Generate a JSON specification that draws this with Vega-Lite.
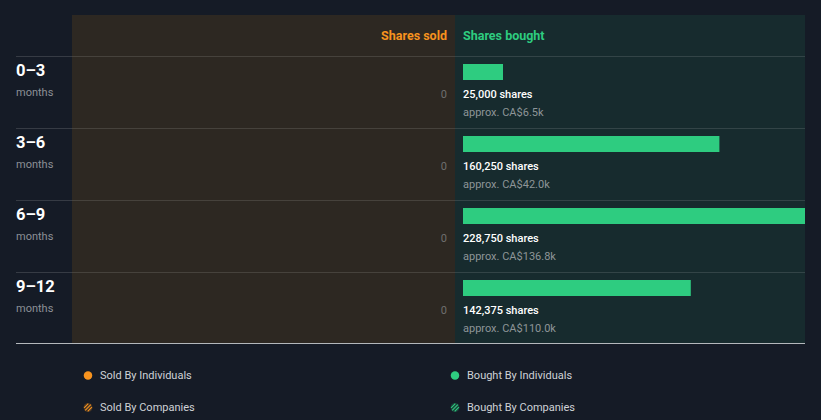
{
  "$schema": "https://vega.github.io/schema/vega-lite/v6.json",
  "background": "#151b26",
  "padding": {"left": 16, "top": 15, "right": 16, "bottom": 0},
  "spacing": 0,
  "config": {
    "view": {"stroke": null},
    "font": "Roboto",
    "text": {"font": "Roboto"}
  },
  "datasets": {
    "rows": [
      {"period": "0–3", "sold": 0, "bought": 25000, "boughtLabel": "25,000 shares", "approx": "approx. CA$6.5k"},
      {"period": "3–6", "sold": 0, "bought": 160250, "boughtLabel": "160,250 shares", "approx": "approx. CA$42.0k"},
      {"period": "6–9", "sold": 0, "bought": 228750, "boughtLabel": "228,750 shares", "approx": "approx. CA$136.8k"},
      {"period": "9–12", "sold": 0, "bought": 142375, "boughtLabel": "142,375 shares", "approx": "approx. CA$110.0k"}
    ],
    "headers": [
      {"side": "Sold", "title": "Shares sold", "zero": 0},
      {"side": "Bought", "title": "Shares bought", "zero": 0}
    ],
    "legend": [
      {"side": "Sold", "kind": "Individuals", "label": "Sold By Individuals"},
      {"side": "Bought", "kind": "Individuals", "label": "Bought By Individuals"},
      {"side": "Sold", "kind": "Companies", "label": "Sold By Companies"},
      {"side": "Bought", "kind": "Companies", "label": "Bought By Companies"}
    ]
  },
  "vconcat": [
    {
      "hconcat": [
        {
          "width": 56, "height": 41,
          "data": {"name": "headers"},
          "transform": [{"filter": "datum.side == 'none'"}],
          "mark": {"type": "text"},
          "encoding": {"text": {"field": "title"}}
        },
        {
          "width": 383, "height": 41,
          "view": {"fill": "#2d2822", "stroke": null},
          "data": {"name": "headers"},
          "transform": [{"filter": "datum.side == 'Sold'"}],
          "mark": {"type": "text", "align": "right", "baseline": "middle", "fontSize": 12.5, "fontWeight": "bold", "color": "#f7931e"},
          "encoding": {
            "x": {"field": "zero", "type": "quantitative", "scale": {"domain": [-5000, 234375], "reverse": true, "nice": false, "zero": false}, "axis": null},
            "text": {"field": "title"}
          }
        },
        {
          "width": 350, "height": 41,
          "view": {"fill": "#172b2e", "stroke": null},
          "data": {"name": "headers"},
          "transform": [{"filter": "datum.side == 'Bought'"}],
          "mark": {"type": "text", "align": "left", "baseline": "middle", "fontSize": 12.5, "fontWeight": "bold", "color": "#2ecc80"},
          "encoding": {
            "x": {"field": "zero", "type": "quantitative", "scale": {"domain": [-5000, 213750], "nice": false, "zero": false}, "axis": null},
            "text": {"field": "title"}
          }
        }
      ],
      "spacing": 0,
      "bounds": "flush"
    },
    {
      "hconcat": [
        {
          "width": 56, "height": 288,
          "data": {"name": "rows"},
          "encoding": {
            "y": {"field": "period", "type": "nominal", "sort": null, "scale": {"paddingInner": 0, "paddingOuter": 0}, "axis": null}
          },
          "layer": [
            {"mark": {"type": "rule", "color": "#ffffff", "opacity": 0.14, "strokeWidth": 1, "clip": true, "yOffset": 0.5},
             "encoding": {"y": {"field": "period", "type": "nominal", "sort": null, "bandPosition": 0}}},
            {"mark": {"type": "rule", "color": "#b4b8bc", "strokeWidth": 1, "clip": true, "yOffset": -0.5},
             "transform": [{"filter": "datum.period == '9–12'"}],
             "encoding": {"y": {"field": "period", "type": "nominal", "sort": null, "bandPosition": 1}}},
            {"mark": {"type": "text", "align": "left", "baseline": "middle", "fontSize": 16.5, "fontWeight": "bold", "color": "#ffffff", "dy": -21},
             "encoding": {"x": {"value": 0}, "text": {"field": "period"}}},
            {"mark": {"type": "text", "align": "left", "baseline": "middle", "fontSize": 11, "color": "#8c9096", "dy": 1},
             "encoding": {"x": {"value": 0}, "text": {"value": "months"}}}
          ]
        },
        {
          "width": 383, "height": 288,
          "view": {"fill": "#2d2822", "stroke": null},
          "data": {"name": "rows"},
          "encoding": {
            "y": {"field": "period", "type": "nominal", "sort": null, "scale": {"paddingInner": 0, "paddingOuter": 0}, "axis": null}
          },
          "layer": [
            {"mark": {"type": "rule", "color": "#ffffff", "opacity": 0.12, "strokeWidth": 1, "clip": true, "yOffset": 0.5},
             "encoding": {"y": {"field": "period", "type": "nominal", "sort": null, "bandPosition": 0}}},
            {"mark": {"type": "rule", "color": "#b4b8bc", "strokeWidth": 1, "clip": true, "yOffset": -0.5},
             "transform": [{"filter": "datum.period == '9–12'"}],
             "encoding": {"y": {"field": "period", "type": "nominal", "sort": null, "bandPosition": 1}}},
            {"mark": {"type": "text", "align": "right", "baseline": "middle", "fontSize": 11, "color": "#6f6f6f", "dy": 3},
             "encoding": {
               "x": {"field": "sold", "type": "quantitative", "scale": {"domain": [-5000, 234375], "reverse": true, "nice": false, "zero": false}, "axis": null},
               "text": {"field": "sold"}
             }}
          ]
        },
        {
          "width": 350, "height": 288,
          "view": {"fill": "#172b2e", "stroke": null},
          "data": {"name": "rows"},
          "encoding": {
            "y": {"field": "period", "type": "nominal", "sort": null, "scale": {"paddingInner": 0, "paddingOuter": 0}, "axis": null}
          },
          "layer": [
            {"mark": {"type": "rule", "color": "#ffffff", "opacity": 0.12, "strokeWidth": 1, "clip": true, "yOffset": 0.5},
             "encoding": {"y": {"field": "period", "type": "nominal", "sort": null, "bandPosition": 0}}},
            {"mark": {"type": "rule", "color": "#b4b8bc", "strokeWidth": 1, "clip": true, "yOffset": -0.5},
             "transform": [{"filter": "datum.period == '9–12'"}],
             "encoding": {"y": {"field": "period", "type": "nominal", "sort": null, "bandPosition": 1}}},
            {"mark": {"type": "bar", "color": "#2ecc80", "height": 16, "yOffset": -20, "cornerRadius": 0, "clip": true},
             "encoding": {
               "x": {"field": "bought", "type": "quantitative", "scale": {"domain": [-5000, 213750], "clamp": true, "nice": false, "zero": false}, "axis": null},
               "x2": {"datum": 0}
             }},
            {"mark": {"type": "text", "align": "left", "baseline": "middle", "fontSize": 11, "fontWeight": 500, "color": "#ffffff", "dy": 3},
             "encoding": {
               "x": {"datum": 0, "type": "quantitative"},
               "text": {"field": "boughtLabel"}
             }},
            {"mark": {"type": "text", "align": "left", "baseline": "middle", "fontSize": 11, "color": "#8e9598", "dy": 21},
             "encoding": {
               "x": {"datum": 0, "type": "quantitative"},
               "text": {"field": "approx"}
             }}
          ]
        }
      ],
      "spacing": 0,
      "bounds": "flush"
    },
    {
      "width": 789, "height": 76,
      "data": {"name": "legend"},
      "encoding": {
        "x": {"field": "side", "type": "nominal", "scale": {"type": "point", "domain": ["Sold", "Bought"], "range": [72, 439], "padding": 0}, "axis": null},
        "y": {"field": "kind", "type": "nominal", "scale": {"type": "point", "domain": ["Individuals", "Companies"], "range": [31.5, 63.5], "padding": 0}, "axis": null},
        "color": {"field": "side", "type": "nominal", "scale": {"domain": ["Sold", "Bought"], "range": ["#f7931e", "#2ecc80"]}, "legend": null}
      },
      "layer": [
        {"transform": [{"filter": "datum.kind == 'Companies'"}],
         "mark": {"type": "point", "filled": true, "shape": "circle", "size": 80, "opacity": 0.22}},
        {"mark": {"type": "point", "filled": true, "opacity": 1},
         "encoding": {
           "shape": {"field": "kind", "type": "nominal", "scale": {"domain": ["Individuals", "Companies"], "range": ["circle", "M-0.757,0.587L0.587,-0.757L0.757,-0.587L-0.587,0.757Z M-0.156,0.834L0.834,-0.156L1.004,0.014L0.014,1.004Z M0.156,-0.834L-0.834,0.156L-1.004,-0.014L-0.014,-1.004Z"]}, "legend": null},
           "size": {"value": 72}
         }},
        {"mark": {"type": "text", "align": "left", "baseline": "middle", "fontSize": 11, "dx": 12, "dy": 0.5, "color": "#cfd2d6"},
         "encoding": {"text": {"field": "label"}, "color": {"value": "#cfd2d6"}}}
      ]
    }
  ]
}
